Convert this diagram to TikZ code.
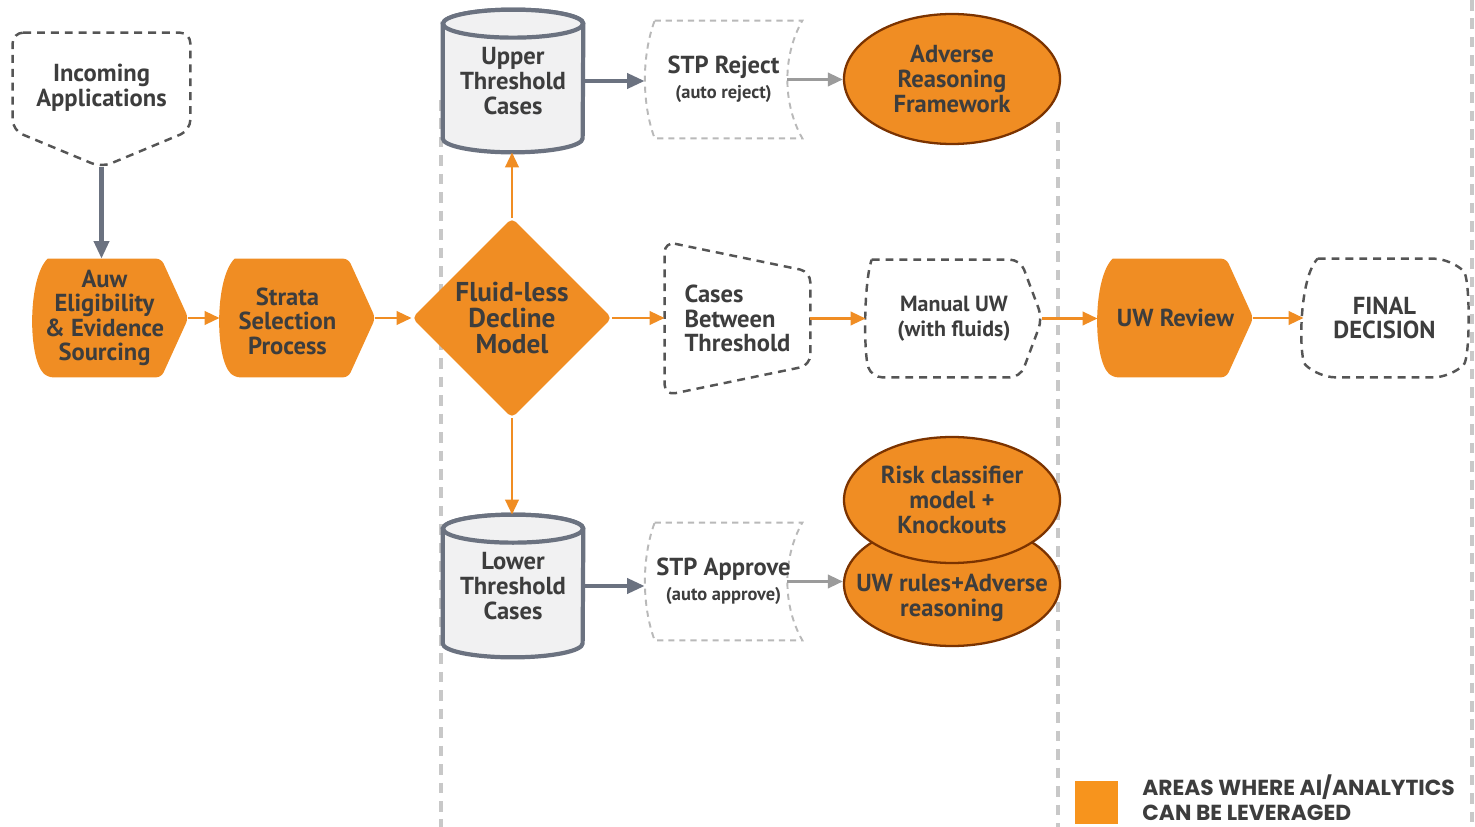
\documentclass[tikz,border=0pt]{standalone}
\usepackage{fontspec}
\setmainfont{PT Sans}
\newfontfamily\legendfont{Poppins}
\usepackage{tikz}
\usetikzlibrary{calc,arrows.meta,shapes.geometric,backgrounds}
\definecolor{uworange}{RGB}{240,141,035}
\definecolor{uwlegend}{RGB}{247,148,029}
\definecolor{uwbrown}{RGB}{123,051,000}
\definecolor{uwslate}{RGB}{107,114,128}
\definecolor{uwtext}{RGB}{061,061,061}
\definecolor{uwdash}{RGB}{085,085,085}
\definecolor{uwlight}{RGB}{185,185,185}
\definecolor{uwgray}{RGB}{155,155,155}
\definecolor{uwlane}{RGB}{200,200,200}
\definecolor{uwfill}{RGB}{241,241,242}
\tikzset{
  flowtext/.style = {font=\fontsize{14}{14}\selectfont\bfseries, text=uwtext, align=center, inner sep=0pt},
  boxsize/.style 2 args = {minimum width={#1*0.02cm}, minimum height={#2*0.02cm}},
  procfill/.style = {fill=uworange, rounded corners=3pt},
  dmfill/.style   = {diamond, fill=uworange, rounded corners=3pt},
  aifill/.style   = {ellipse, fill=uworange, draw=uwbrown, line width=1.3pt},
  dashout/.style  = {draw=uwdash, line width=1.4pt, dash pattern=on 4.5pt off 3.4pt, rounded corners=6pt},
  stpout/.style   = {draw=uwlight, line width=1.1pt, dash pattern=on 3.5pt off 2.8pt},
  dbcyl/.style    = {draw=uwslate, fill=uwfill, line width=2.4pt},
  lane/.style     = {draw=uwlane, line width=2pt, dash pattern=on 6pt off 4.5pt},
  flow/.style     = {-{Triangle[length=8.5pt,width=7.5pt]}, line width=1.7pt, uworange},
  feed/.style     = {-{Triangle[length=10pt,width=8.5pt]}, line width=2.3pt, uwslate},
  pass/.style     = {-{Triangle[length=8.5pt,width=7.5pt]}, line width=1.7pt, uwgray}
}
% orange process box: round left side, pointed right side
\newcommand{\procshape}[1]{%
  \path[procfill] ($(#1.north west)+(15,0)$) -- ($(#1.north east)+(-27,0)$) -- (#1.east)
    -- ($(#1.south east)+(-27,0)$) -- ($(#1.south west)+(15,0)$)
    .. controls ($(#1.west)+(-5,40)$) and ($(#1.west)+(-5,-40)$) .. ($(#1.north west)+(15,0)$);}
% stored data outline for the STP boxes
\newcommand{\stpshape}[1]{%
  \draw[stpout] ($(#1.north west)+(10,0)$) -- (#1.north east)
    .. controls ($(#1.north east)+(-20,35)$) and ($(#1.south east)+(-20,-35)$) .. (#1.south east)
    -- ($(#1.south west)+(10,0)$)
    .. controls ($(#1.south west)+(-3,-35)$) and ($(#1.north west)+(-3,35)$) .. ($(#1.north west)+(10,0)$);}
% database cylinder
\newcommand{\dbshape}[1]{%
  \filldraw[dbcyl] ($(#1.north west)+(0,14)$) -- ($(#1.south west)+(0,-14)$)
    arc[start angle=180, end angle=360, x radius=1.4cm, y radius=0.28cm]
    -- ($(#1.north east)+(0,14)$)
    arc[start angle=0, end angle=180, x radius=1.4cm, y radius=0.28cm] -- cycle;
  \draw[dbcyl] ($(#1.north)+(0,14)$) ellipse[x radius=1.4cm, y radius=0.28cm];}

\begin{document}
\begin{tikzpicture}[x={(0.02cm,0cm)}, y={(0cm,-0.02cm)}]
  \useasboundingbox (0,0) rectangle (1475,827);

  % main row
  \node[flowtext, boxsize={177}{110}] (inc) at (101.5,88) {Incoming\\Applications};
  \node[boxsize={155}{118}] (auw) at (110.5,318) {};
  \node[flowtext, font=\fontsize{14}{13.8}\selectfont\bfseries] (auw-t) at ($(auw)+(-6,0)$) {Auw\\Eligibility\\\&~Evidence\\Sourcing};
  \node[boxsize={155}{118}] (strata) at (297.5,318) {};
  \node[flowtext] (strata-t) at ($(strata)+(-10,3)$) {Strata\\Selection\\Process};
  \node[flowtext, dmfill, boxsize={200}{200}, font=\fontsize{15.5}{14.6}\selectfont\bfseries] (dm) at (512,318) {Fluid-less\\Decline\\Model};
  \node[flowtext, boxsize={145}{153}, align=left] (cbt) at (737.5,318.5) {Cases\\Between\\Threshold};
  \node[flowtext, boxsize={176}{117}, font=\fontsize{12.5}{14}\selectfont\bfseries] (muw) at (954,318.5) {Manual UW\\(with fluids)};
  \node[flowtext, boxsize={155}{118}] (uwr) at (1175.5,318) {UW Review};
  \node[flowtext, boxsize={161}{118}] (fin) at (1384.5,318) {FINAL\\DECISION};

  % threshold branches
  \node[flowtext, boxsize={140}{142}] (upper) at (513,81) {Upper\\Threshold\\Cases};
  \node[flowtext, boxsize={140}{142}] (lower) at (513,586) {Lower\\Threshold\\Cases};
  \node[flowtext, boxsize={157}{117}] (rej) at (723.5,79.5) {STP Reject\\{\fontsize{10.5}{13}\selectfont (auto reject)}};
  \node[flowtext, boxsize={157}{117}] (apr) at (723.5,581.5) {STP Approve\\{\fontsize{10.5}{13}\selectfont (auto approve)}};

  % AI areas
  \node[flowtext, aifill, boxsize={216}{130}] (adv) at (952,79) {Adverse\\Reasoning\\Framework};
  \node[aifill, boxsize={216}{124}] (uwrules) at (952,584) {};
  \node[flowtext] (uwrules-t) at ($(uwrules)+(0,14)$) {UW rules+Adverse\\reasoning};
  \node[flowtext, aifill, boxsize={216}{126}] (risk) at (952,500) {Risk classifier\\model +\\Knockouts};

  \coordinate (inc-tip) at ($(inc.south)+(0,24)$);
  \coordinate (rej-out) at ($(rej.east)+(-15,0)$);
  \coordinate (apr-out) at ($(apr.east)+(-15,0)$);

  \begin{scope}[on background layer]
    % lanes
    \draw[lane] (441,100) -- (441,827);
    \draw[lane] (1058,122) -- (1058,827);
    \draw[lane] (1472,0) -- (1472,827);
    % outlines
    \draw[dashout] (inc.north west) -- (inc.north east) -- ($(inc.south east)+(0,-13)$) -- (inc-tip)
      -- ($(inc.south west)+(0,-13)$) -- cycle;
    \procshape{auw}
    \procshape{strata}
    \procshape{uwr}
    \draw[dashout] (cbt.north west) -- ($(cbt.north east)+(0,30)$) -- ($(cbt.south east)+(0,-30)$)
      -- (cbt.south west) -- cycle;
    \draw[dashout] ($(muw.north west)+(6,0)$) -- ($(muw.north east)+(-22,0)$) -- (muw.east)
      -- ($(muw.south east)+(-22,0)$) -- ($(muw.south west)+(6,0)$)
      .. controls ($(muw.west)+(-2,35)$) and ($(muw.west)+(-2,-35)$) .. ($(muw.north west)+(6,0)$);
    \draw[dashout, rounded corners=10pt] ($(fin.north west)+(14,0)$) -- ($(fin.north east)+(-14,0)$)
      .. controls ($(fin.east)+(5,-40)$) and ($(fin.east)+(5,40)$) .. ($(fin.south east)+(-14,0)$)
      -- ($(fin.south west)+(14,0)$)
      .. controls ($(fin.west)+(-5,40)$) and ($(fin.west)+(-5,-40)$) .. ($(fin.north west)+(14,0)$);
    \dbshape{upper}
    \dbshape{lower}
    \stpshape{rej}
    \stpshape{apr}
  \end{scope}

  % connectors
  \draw[feed] (inc-tip) -- (inc-tip |- auw.north);
  \draw[flow] (auw.east) -- (strata.west);
  \draw[flow] (strata.east) -- (dm.west);
  \draw[flow] (dm.north) -- (dm.north |- upper.south);
  \draw[flow] (dm.south) -- (dm.south |- lower.north);
  \draw[flow] (dm.east) -- (dm.east -| cbt.west);
  \draw[flow] (cbt.east) -- (cbt.east -| muw.west);
  \draw[flow] (muw.east) -- (muw.east -| uwr.west);
  \draw[flow] (uwr.east) -- (uwr.east -| fin.west);
  \draw[feed] (upper.east) -- (upper.east -| rej.west);
  \draw[feed] (lower.east) -- (lower.east -| apr.west);
  \draw[pass] (rej-out) -- (rej-out -| adv.west);
  \draw[pass] (apr-out) -- (apr-out -| uwrules.west);
  \draw[line width=1.7pt, uworange] ($(adv.south)+(-7,0)$) -- ($(adv.south)+(-7,0)$ |- muw.north);

  % legend
  \node[fill=uwlegend, minimum size=0.86cm, inner sep=0pt] (key) at (1096.5,802.5) {};
  \node[anchor=west, font=\legendfont\bfseries\fontsize{12.4}{14.2}\selectfont, text=uwtext, align=left, inner sep=0pt] (keytext) at (1142,798) {AREAS WHERE AI/ANALYTICS\\CAN BE LEVERAGED};
\end{tikzpicture}
\end{document}
